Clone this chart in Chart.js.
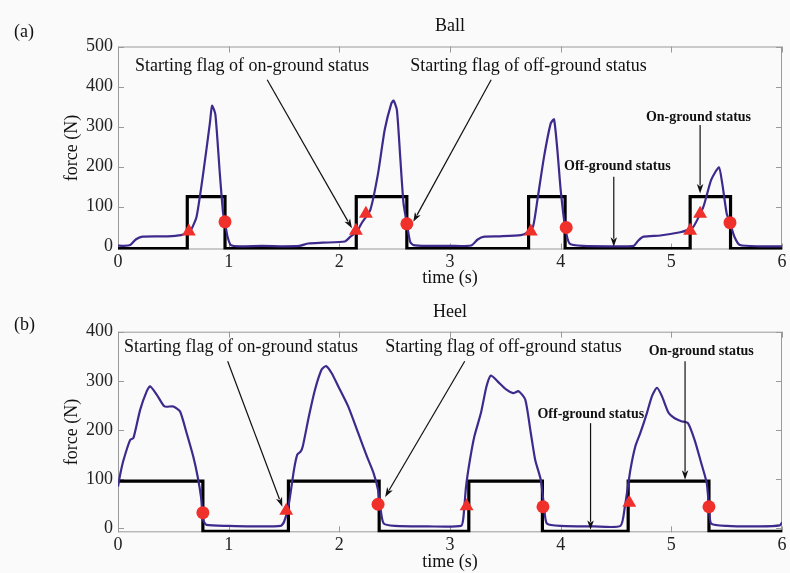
<!DOCTYPE html>
<html>
<head>
<meta charset="utf-8">
<script src="https://cdn.jsdelivr.net/npm/chart.js@4.4.1/dist/chart.umd.min.js"></script>
<style>
    body { margin: 0; background: #fbfafa; }
    .panel { position: absolute; left: 0; }
</style>
</head>
<body>
<canvas id="ballChart" class="panel" width="790" height="290" style="top:0"></canvas>
<canvas id="heelChart" class="panel" width="790" height="283" style="top:290px"></canvas>
<script>
// ---- data ----
const xTicks = [0, 1, 2, 3, 4, 5, 6];
const ballYTicks = [0, 100, 200, 300, 400, 500];
const heelYTicks = [0, 100, 200, 300, 400];

// (a) Ball sensor force
const ballTime = [0, 0.05, 0.11, 0.16, 0.22, 0.35, 0.45, 0.57, 0.62, 0.66, 0.71, 0.77, 0.83, 0.85, 0.88, 0.92, 0.95, 0.97, 0.99, 1.02,
    1.1, 1.3, 1.5, 1.64, 1.72, 1.85, 2.05, 2.1, 2.16, 2.2, 2.28, 2.35, 2.41, 2.47, 2.49, 2.52, 2.55, 2.58, 2.61, 2.64, 2.67,
    2.8, 3.0, 3.19, 3.25, 3.31, 3.45, 3.64, 3.7, 3.75, 3.79, 3.85, 3.91, 3.94, 3.97, 4.0, 4.04, 4.08,
    4.2, 4.5, 4.66, 4.7, 4.75, 4.9, 5.08, 5.15, 5.2, 5.29, 5.36, 5.43, 5.46, 5.5, 5.53, 5.57, 5.62, 5.8, 6.0];
const ballForce = [3, 2, 4, 18, 25, 26, 26, 29, 34, 42, 75, 183, 308, 352, 330, 183, 83, 55, 25, 4,
    1, 2, 1, 2, 8, 10, 13, 25, 38, 58, 92, 183, 292, 358, 365, 342, 225, 108, 58, 12, 4,
    2, 2, 3, 18, 25, 26, 29, 36, 50, 117, 225, 308, 318, 242, 142, 50, 8,
    2, 1, 2, 15, 25, 28, 36, 42, 50, 100, 167, 198, 158, 83, 60, 25, 4, 1, 1];
// on/off-ground status (value holds until next change)
const ballStatusTime = [0, 0.626, 0.967, 2.153, 2.61, 3.71, 4.04, 5.17, 5.535, 6];
const ballStatus = [-5, 125, -5, 125, -5, 125, -5, 125, -5, -5];
const ballOnFlagTime = [0.64, 2.15, 2.24, 3.73, 5.17, 5.26];
const ballOnFlag = [38, 40, 82, 38, 40, 82];
const ballOffFlagTime = [0.967, 2.61, 4.05, 5.53];
const ballOffFlag = [62, 57, 48, 60];

// (b) Heel sensor force
const heelTime = [0, 0.02, 0.05, 0.11, 0.14, 0.2, 0.26, 0.29, 0.35, 0.42, 0.5, 0.56, 0.62, 0.68, 0.72, 0.75, 0.77, 0.8,
    1.0, 1.2, 1.47, 1.5, 1.54, 1.59, 1.62, 1.65, 1.67, 1.725, 1.78, 1.84, 1.88, 1.93, 1.99, 2.08, 2.17, 2.25, 2.31, 2.35, 2.37, 2.4,
    2.5, 2.8, 3.1, 3.12, 3.145, 3.18, 3.22, 3.28, 3.33, 3.37, 3.43, 3.51, 3.57, 3.62, 3.68, 3.73, 3.77, 3.82, 3.85, 3.875,
    4.0, 4.3, 4.54, 4.58, 4.63, 4.675, 4.72, 4.78, 4.825, 4.87, 4.915, 4.975, 5.03, 5.09, 5.15, 5.21, 5.27, 5.32, 5.34, 5.36,
    5.5, 5.8, 5.98, 6.0];
const heelForce = [85, 110, 139, 180, 184, 241, 279, 289, 272, 248, 248, 238, 194, 146, 105, 64, 17, 7,
    5, 4, 5, 13, 44, 119, 150, 156, 167, 228, 282, 323, 330, 316, 289, 248, 194, 146, 112, 78, 44, 10,
    5, 4, 5, 20, 85, 139, 187, 235, 289, 311, 299, 282, 275, 279, 262, 194, 139, 99, 44, 10,
    5, 4, 5, 44, 119, 167, 194, 235, 269, 286, 269, 235, 224, 218, 214, 180, 133, 92, 44, 10,
    5, 4, 6, 12];
const heelStatusTime = [0, 0.767, 1.54, 2.36, 3.17, 3.835, 4.61, 5.34, 6];
const heelStatus = [96, -6, 96, -6, 96, -6, 96, -6, -6];
const heelOnFlagTime = [1.52, 3.15, 4.62];
const heelOnFlag = [36, 45, 52];
const heelOffFlagTime = [0.767, 2.35, 3.84, 5.34];
const heelOffFlag = [32, 49, 44, 44];

// annotation texts and arrows, in data units
const ballNotes = [
    { text: 'Starting flag of on-ground status', t: 0.153, f: 450, bold: false },
    { text: 'Starting flag of off-ground status', t: 2.64, f: 450, bold: false },
    { text: 'Off-ground status', t: 4.03, f: 200, bold: true },
    { text: 'On-ground status', t: 4.77, f: 322, bold: true }
];
const ballArrows = [
    [1.348, 417, 2.114, 46],
    [3.372, 417, 2.668, 62],
    [4.48, 175, 4.48, 0],
    [5.26, 304, 5.26, 133]
];
const heelNotes = [
    { text: 'Starting flag of on-ground status', t: 0.054, f: 368, bold: false },
    { text: 'Starting flag of off-ground status', t: 2.414, f: 368, bold: false },
    { text: 'Off-ground status', t: 3.79, f: 231, bold: true },
    { text: 'On-ground status', t: 4.795, f: 360, bold: true }
];
const heelArrows = [
    [0.991, 340, 1.485, 44],
    [3.133, 340, 2.414, 64],
    [4.27, 214, 4.27, -3],
    [5.124, 340, 5.124, 99]
];

const SERIF = '"Liberation Serif", "Times New Roman", serif';
const FORCE_COLOR = '#3d2a8c';
const FLAG_COLOR = '#f0302a';

function toPoints(xs, ys) {
    return xs.map((x, i) => ({ x: x, y: ys[i] }));
}

// draws the MATLAB-like box, inward ticks, panel letter, title and arrows
const figurePlugin = {
    id: 'figure',
    beforeDraw(chart) {
        const ctx = chart.ctx;
        ctx.save();
        ctx.fillStyle = '#fbfafa';
        ctx.fillRect(0, 0, chart.width, chart.height);
        ctx.restore();
    },
    beforeDatasetsDraw(chart) {
        const { ctx, chartArea: a, scales: { x, y } } = chart;
        ctx.save();
        ctx.strokeStyle = '#9a9a9a';
        ctx.lineWidth = 1;
        ctx.strokeRect(a.left + 0.5, a.top + 0.5, a.width - 1, a.height - 1);
        ctx.beginPath();
        x.ticks.forEach(t => {
            const px = Math.round(x.getPixelForValue(t.value)) + 0.5;
            ctx.moveTo(px, a.bottom); ctx.lineTo(px, a.bottom - 6);
            ctx.moveTo(px, a.top); ctx.lineTo(px, a.top + 6);
        });
        y.ticks.forEach(t => {
            const py = Math.round(y.getPixelForValue(t.value)) + 0.5;
            ctx.moveTo(a.left, py); ctx.lineTo(a.left + 6, py);
            ctx.moveTo(a.right, py); ctx.lineTo(a.right - 6, py);
        });
        ctx.stroke();
        ctx.restore();
    },
    afterDraw(chart, args, opts) {
        const { ctx, chartArea: a, scales: { x, y } } = chart;
        ctx.save();
        ctx.fillStyle = '#111';
        ctx.textBaseline = 'middle';
        ctx.font = '18px ' + SERIF;
        ctx.textAlign = 'left';
        ctx.fillText(opts.letter, 14, opts.letterY);
        ctx.textAlign = 'center';
        ctx.fillText(opts.title, (a.left + a.right) / 2, opts.titleY);

        ctx.textAlign = 'left';
        opts.notes.forEach(n => {
            ctx.font = (n.bold ? 'bold 14px ' : '18px ') + SERIF;
            ctx.fillText(n.text, x.getPixelForValue(n.t), y.getPixelForValue(n.f));
        });

        ctx.strokeStyle = '#111';
        ctx.lineWidth = 1.2;
        opts.arrows.forEach(ar => {
            const x0 = x.getPixelForValue(ar[0]), y0 = y.getPixelForValue(ar[1]);
            const x1 = x.getPixelForValue(ar[2]), y1 = y.getPixelForValue(ar[3]);
            const ang = Math.atan2(y1 - y0, x1 - x0);
            const head = 10, wing = 0.33;
            ctx.beginPath();
            ctx.moveTo(x0, y0);
            ctx.lineTo(x1 - Math.cos(ang) * head * 0.8, y1 - Math.sin(ang) * head * 0.8);
            ctx.stroke();
            ctx.beginPath();
            ctx.moveTo(x1, y1);
            ctx.lineTo(x1 - head * Math.cos(ang - wing), y1 - head * Math.sin(ang - wing));
            ctx.lineTo(x1 - head * 0.7 * Math.cos(ang), y1 - head * 0.7 * Math.sin(ang));
            ctx.lineTo(x1 - head * Math.cos(ang + wing), y1 - head * Math.sin(ang + wing));
            ctx.closePath();
            ctx.fill();
        });
        ctx.restore();
    }
};

function makePanel(id, cfg) {
    const ctx = document.getElementById(id).getContext('2d');
    const font = { family: SERIF, size: 18 };
    return new Chart(ctx, {
        type: 'scatter',
        data: {
            datasets: [
                {
                    label: 'on-ground flag',
                    data: toPoints(cfg.onTime, cfg.on),
                    pointStyle: 'triangle',
                    pointRadius: 8,
                    backgroundColor: FLAG_COLOR,
                    borderWidth: 0,
                    order: 0
                },
                {
                    label: 'off-ground flag',
                    data: toPoints(cfg.offTime, cfg.off),
                    pointStyle: 'circle',
                    pointRadius: 6.5,
                    backgroundColor: FLAG_COLOR,
                    borderWidth: 0,
                    order: 0
                },
                {
                    label: 'force',
                    data: toPoints(cfg.time, cfg.force),
                    showLine: true,
                    pointRadius: 0,
                    borderColor: FORCE_COLOR,
                    borderWidth: 2.2,
                    tension: 0.2,
                    order: 1
                },
                {
                    label: 'status',
                    data: toPoints(cfg.statusTime, cfg.status),
                    showLine: true,
                    stepped: 'before',
                    pointRadius: 0,
                    borderColor: '#000',
                    borderWidth: 3.2,
                    order: 2
                }
            ]
        },
        options: {
            responsive: false,
            animation: false,
            events: [],
            layout: { padding: { top: cfg.padTop, right: 3, left: 0, bottom: 0 } },
            plugins: {
                legend: { display: false },
                tooltip: { enabled: false },
                figure: {
                    letter: cfg.letter, letterY: cfg.letterY,
                    title: cfg.title, titleY: cfg.titleY,
                    notes: cfg.notes, arrows: cfg.arrows
                }
            },
            scales: {
                x: {
                    type: 'linear',
                    min: 0,
                    max: 6,
                    afterBuildTicks: s => { s.ticks = xTicks.map(v => ({ value: v })); },
                    afterFit: s => { s.height = cfg.xHeight; },
                    grid: { display: false, drawTicks: false },
                    border: { display: false },
                    ticks: { font: font, color: '#222', padding: 2, maxRotation: 0 },
                    title: { display: true, text: 'time (s)', font: font, color: '#111', padding: { top: 0, bottom: cfg.xTitlePad } }
                },
                y: {
                    min: cfg.yMin,
                    max: cfg.yMax,
                    afterBuildTicks: s => { s.ticks = cfg.yTicks.map(v => ({ value: v })); },
                    afterFit: s => { s.width = 118; },
                    grid: { display: false, drawTicks: false },
                    border: { display: false },
                    ticks: { font: font, color: '#222', padding: 5 },
                    title: { display: true, text: 'force (N)', font: font, color: '#111', padding: { top: 61, bottom: 0 } }
                }
            }
        },
        plugins: [figurePlugin]
    });
}

makePanel('ballChart', {
    letter: '(a)', letterY: 32, title: 'Ball', titleY: 26,
    time: ballTime, force: ballForce,
    statusTime: ballStatusTime, status: ballStatus,
    onTime: ballOnFlagTime, on: ballOnFlag,
    offTime: ballOffFlagTime, off: ballOffFlag,
    notes: ballNotes, arrows: ballArrows,
    yMin: -7, yMax: 500, yTicks: ballYTicks,
    padTop: 46.5, xHeight: 40.5, xTitlePad: 1
});

makePanel('heelChart', {
    letter: '(b)', letterY: 35, title: 'Heel', titleY: 22,
    time: heelTime, force: heelForce,
    statusTime: heelStatusTime, status: heelStatus,
    onTime: heelOnFlagTime, on: heelOnFlag,
    offTime: heelOffFlagTime, off: heelOffFlag,
    notes: heelNotes, arrows: heelArrows,
    yMin: -8, yMax: 400, yTicks: heelYTicks,
    padTop: 41.7, xHeight: 40.7, xTitlePad: 0
});
</script>
</body>
</html>
